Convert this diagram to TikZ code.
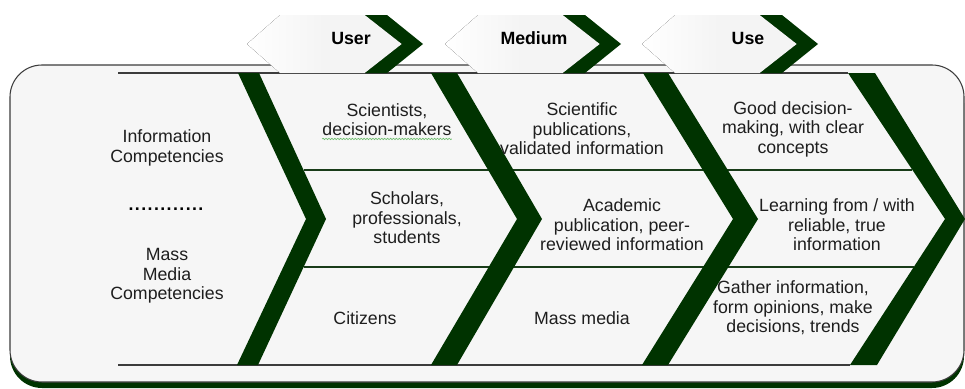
\documentclass[tikz,border=0pt]{standalone}
\usepackage{fontspec}
\setmainfont{Liberation Sans}
\usetikzlibrary{decorations.pathmorphing}
\definecolor{dgreen}{RGB}{0,51,0}
\definecolor{boxfill}{RGB}{246,246,246}
\definecolor{hdrfill}{RGB}{244,244,244}
\definecolor{txt}{RGB}{30,30,30}
\definecolor{edgec}{RGB}{60,60,60}
\definecolor{rowc}{RGB}{25,60,25}
\definecolor{spell}{RGB}{110,190,110}
\begin{document}
\begin{tikzpicture}[x=0.75pt,y=-0.75pt,
  lbl/.style={font=\fontsize{13.3}{14.6}\selectfont, text=txt, align=center, inner sep=0pt, yshift=-1.5pt},
  hdr/.style={font=\fontsize{13.3}{14.6}\selectfont\bfseries, text=black, inner sep=0pt},
  bandfill/.style={fill=dgreen},
  rowline/.style={draw=rowc, line width=1.5pt},
  innerline/.style={draw=edgec, line width=0.8pt},
  hdrshape/.style={left color=white, right color=hdrfill, middle color=hdrfill}]
\useasboundingbox (0,0) rectangle (965,389);
% shadow and outer box
\fill[dgreen, rounded corners=24pt] (10,71) rectangle (964,388);
\filldraw[fill=boxfill, draw=edgec, line width=0.8pt, rounded corners=24pt] (10,65) rectangle (964,382);
% inner top / bottom lines
\draw[innerline] (118,73) -- (848,73);
\draw[innerline] (118,365) -- (850,365);
% row separators
\draw[rowline] (303.5,170) -- (912.4,170);
\draw[rowline] (303.6,267) -- (913.8,267);
% main chevron bands
\fill[bandfill] (238,73) -- (259,73) -- (326,219) -- (258,365) -- (237,365) -- (306,219) -- cycle;
\fill[bandfill] (431,73) -- (457,73) -- (542,219) -- (457,365) -- (431,365) -- (517,219) -- cycle;
\fill[bandfill] (643,73) -- (668,73) -- (758,219) -- (668,365) -- (642,365) -- (733,219) -- cycle;
\fill[bandfill] (848,73) -- (875,73) -- (965,219) -- (877,365) -- (850,365) -- (945,219) -- cycle;
% header chevrons
\foreach \dx in {0,198,395}{
  \begin{scope}[xshift=\dx*0.75pt]
    \fill[hdrshape] (247,44) -- (280,15) -- (365,15) -- (402,44) -- (365,73) -- (280,73) -- cycle;
    \fill[bandfill] (365,15) -- (387,15) -- (423,44) -- (387,73) -- (365,73) -- (402,44) -- cycle;
  \end{scope}
}
\node[hdr] (huser) at (351,38) {User};
\node[hdr] (hmedium) at (534,38) {Medium};
\node[hdr] (huse) at (748,38) {Use};
% left column
\node[lbl] (infocomp) at (167,146) {Information\\Competencies};
\node[lbl, text=black] (dots) at (166,207) {\bfseries\addfontfeature{LetterSpace=8}............};
\node[lbl] (massmedia) at (167,274) {Mass\\Media\\Competencies};
% user column
\node[lbl] (u1) at (387,117.5) {Scientists,\\decision-makers};
\draw[spell, line width=0.5pt, decorate, decoration={snake, amplitude=0.5pt, segment length=2.2pt}]
  ([yshift=-2.2pt]u1.south west) -- ([yshift=-2.2pt]u1.south east);
\node[lbl] (u2) at (407,216) {Scholars,\\professionals,\\students};
\node[lbl] (u3) at (365,316) {Citizens};
% medium column
\node[lbl] (m1) at (582,127) {Scientific\\publications,\\validated information};
\node[lbl] (m2) at (622,223) {Academic\\publication, peer-\\reviewed information};
\node[lbl] (m3) at (582,316) {Mass media};
% use column
\node[lbl] (s1) at (793,127) {Good decision-\\making, with clear\\concepts};
\node[lbl] (s2) at (837,223) {Learning from / with\\reliable, true\\information};
\node[lbl] (s3) at (793,306) {Gather information,\\form opinions, make\\decisions, trends};
\end{tikzpicture}
\end{document}
